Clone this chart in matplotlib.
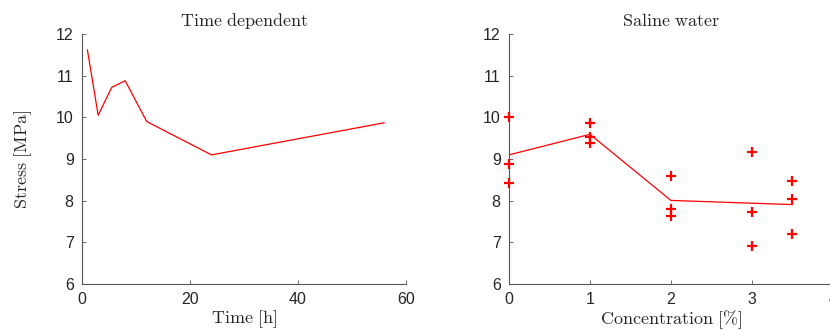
import numpy as np
import matplotlib
matplotlib.use("Agg")
import matplotlib.pyplot as plt

plt.rcParams['font.family'] = ['Liberation Sans', 'DejaVu Sans']
plt.rcParams['mathtext.fontset'] = 'cm'

# time dependent test
time_h = [1, 3, 5.5, 8, 12, 24, 56]
stress_time = [11.62, 10.05, 10.72, 10.88, 9.90, 9.10, 9.87]

# saline water test, three samples per concentration
conc = [0, 1, 2, 3, 3.5]
stress_saline = [
    [10.0, 8.87, 8.43],
    [9.87, 9.53, 9.38],
    [8.59, 7.80, 7.63],
    [9.18, 7.72, 6.92],
    [8.47, 8.05, 7.20],
]

red = '#ff0000'
grey = '#262626'

fig = plt.figure(figsize=(8.3, 3.31), dpi=100)
ax1 = fig.add_axes([0.0988, 0.142, 0.390, 0.755])
ax2 = fig.add_axes([0.6133, 0.142, 0.390, 0.755])

ax1.plot(time_h, stress_time, color=red, lw=0.9)
ax1.set_xlim(0, 60)
ax1.set_xticks([0, 20, 40, 60])

for c, vals in zip(conc, stress_saline):
    ax2.plot([c] * len(vals), vals, '+', color=red, ms=7, mew=1.6,
             clip_on=False, zorder=3)
means = [np.mean(v) for v in stress_saline]
ax2.plot(conc, means, color=red, lw=0.9)
ax2.set_xlim(0, 4)
ax2.set_xticks([0, 1, 2, 3, 4])

for ax in (ax1, ax2):
    ax.set_ylim(6, 12)
    ax.set_yticks(range(6, 13))
    ax.spines['top'].set_visible(False)
    ax.spines['right'].set_visible(False)
    for s in ('left', 'bottom'):
        ax.spines[s].set_color('#555555')
        ax.spines[s].set_linewidth(0.8)
    ax.tick_params(direction='in', length=3, width=0.6, colors='#555555',
                   labelcolor=grey, labelsize=11.5, pad=6)

ax1.set_title(r'$\mathrm{Time\ dependent}$', fontsize=13, color=grey, pad=6)
ax2.set_title(r'$\mathrm{Saline\ water}$', fontsize=13, color=grey, pad=6)
ax1.set_xlabel(r'$\mathrm{Time\ [h]}$', fontsize=13, color=grey, labelpad=1)
ax2.set_xlabel(r'$\mathrm{Concentration\ [\%]}$', fontsize=13, color=grey, labelpad=1)
ax1.set_ylabel(r'$\mathrm{Stress\ [MPa]}$', fontsize=13, color=grey, labelpad=16)

fig.savefig('out.png', dpi=100)
